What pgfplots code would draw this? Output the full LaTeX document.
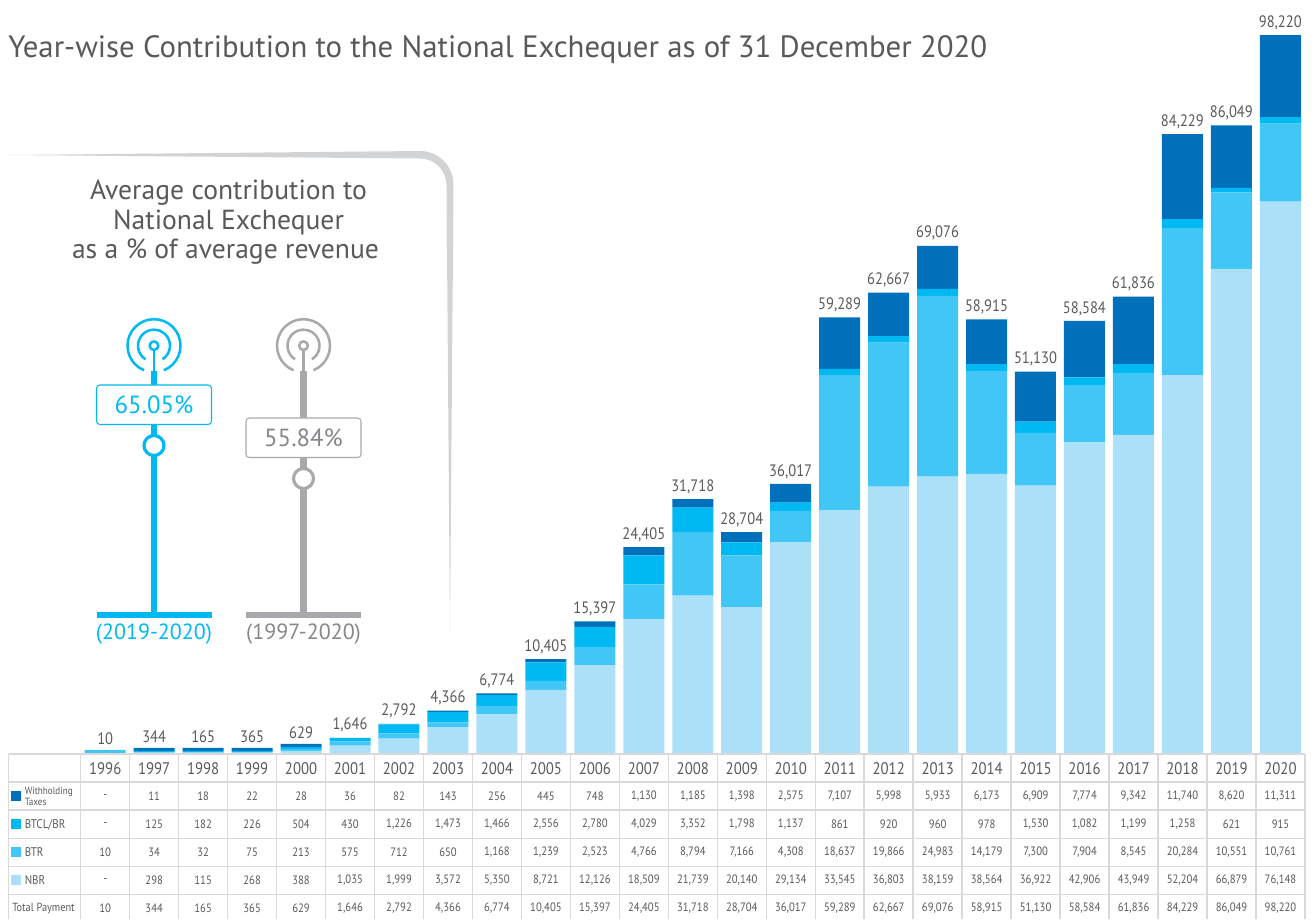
\documentclass[border=0pt]{standalone}
\usepackage{pgfplots}
\usepackage{pgfplotstable}
\usepackage{fontspec}
\pgfplotsset{compat=1.18}
\setmainfont{PT Sans}
\newfontfamily\nf[FakeStretch=0.88]{PT Sans}
\definecolor{cWHT}{HTML}{0070BB}
\definecolor{cBTCL}{HTML}{00B9F2}
\definecolor{cBTR}{HTML}{41C6F5}
\definecolor{cNBR}{HTML}{ABE0F8}
\definecolor{cGrid}{HTML}{D9D9D9}
\definecolor{cText}{HTML}{58595B}
\definecolor{cPanel}{HTML}{D1D3D4}
\definecolor{cAnt}{HTML}{A7A9AC}
\pgfkeys{/pgf/number format/.cd,fixed,precision=0,1000 sep={,},assume math mode=true}
% the printed table
\pgfplotstableread{
year wht btcl btr nbr total
1996 0 0 10 0 10
1997 11 125 34 298 344
1998 18 182 32 115 165
1999 22 226 75 268 365
2000 28 504 213 388 629
2001 36 430 575 1035 1646
2002 82 1226 712 1999 2792
2003 143 1473 650 3572 4366
2004 256 1466 1168 5350 6774
2005 445 2556 1239 8721 10405
2006 748 2780 2523 12126 15397
2007 1130 4029 4766 18509 24405
2008 1185 3352 8794 21739 31718
2009 1398 1798 7166 20140 28704
2010 2575 1137 4308 29134 36017
2011 7107 861 18637 33545 59289
2012 5998 920 19866 36803 62667
2013 5933 960 24983 38159 69076
2014 6173 978 14179 38564 58915
2015 6909 1530 7300 36922 51130
2016 7774 1082 7904 42906 58584
2017 9342 1199 8545 43949 61836
2018 11740 1258 20284 52204 84229
2019 8620 621 10551 66879 86049
2020 11311 915 10761 76148 98220
}\datatable
% the bars as drawn (the first years are drawn taller than the table's values)
\pgfplotstableread{
year wht btcl btr nbr top total
1996 0 0 415 0 1 10
1997 415 180 60 60 1 344
1998 415 180 60 60 1 165
1999 415 180 60 60 1 365
2000 415 280 270 280 1 629
2001 36 430 575 1035 1 1646
2002 82 1226 712 1999 1 2792
2003 143 1473 650 3572 1 4366
2004 256 1466 1168 5350 1 6774
2005 445 2556 1239 8721 1 10405
2006 748 2780 2523 12126 1 15397
2007 1130 4029 4766 18509 1 24405
2008 1185 3352 8794 21739 1 31718
2009 1398 1798 7166 20140 1 28704
2010 2575 1137 4308 29134 1 36017
2011 7107 861 18637 33545 1 59289
2012 5998 920 19866 36803 1 62667
2013 5933 960 24983 38159 1 69076
2014 6173 978 14179 38564 1 58915
2015 6909 1530 7300 36922 1 51130
2016 7774 1082 7904 42906 1 58584
2017 9342 1199 8545 43949 1 61836
2018 11740 1258 20284 52204 1 84229
2019 8620 621 10551 66879 1 86049
2020 11311 915 10761 76148 1 98220
}\bartable
\newcommand\fs[1]{\fontsize{#1}{#1}\selectfont}
\newcommand\cellv[3]{%
  \pgfplotstablegetelem{#1}{#2}\of\datatable
  \ifnum\pgfplotsretval=0 \def\celltext{-}\else\def\celltext{\pgfmathprintnumber{\pgfplotsretval}}\fi
  \node[text=cText,font=\nf\fs{9.1}] at (\X,#3) {\celltext};%
}
\newcommand\antenna[6]{% x, box top, colour, value, period, value colour
  \draw[#3,line width=1.6pt,line cap=butt] (#1,373) -- (#1,349);
  \draw[#3,line width=1.9pt] (#1,345.7) circle (4.3);
  \draw[#3,line width=1.9pt] ($(#1,345.7)+(122:16)$) arc (122:418:16);
  \draw[#3,line width=1.9pt] ($(#1,345.7)+(112:26.5)$) arc (112:428:26.5);
  \draw[#3,line width=5.2pt] (#1,371) -- (#1,613);
  \draw[#3,line width=4.2pt] (#1-57.5,614.8) -- (#1+57.5,614.8);
  \draw[#3,fill=white,line width=0.8pt,rounded corners=2.5pt] (#1-57.5,#2) rectangle (#1+57.5,#2+39.5);
  \node[text=#6,font=\fs{18.6}] at (#1,#2+20) {#4};
  \draw[#3,fill=white,line width=2.4pt] (#1,#2+60.5) circle (10);
  \node[text=#6,font=\fs{16.5}] at (#1,634) {#5};
}
\usetikzlibrary{calc}
\begin{document}
\begin{tikzpicture}
\begin{scope}[x=0.75pt,y=-0.75pt]
\path[use as bounding box] (0,0) rectangle (1315,919);
% panel curve
\fill[cPanel] (8,155) -- (420,151) arc (-90:0:33.5) -- (450,632) -- (446.5,185) arc (0:-90:26.5) -- cycle;
% title
\node[anchor=west,text=cText,font=\fs{23.1},inner sep=0pt] at (8,50) {Year-wise Contribution to the National Exchequer as of 31 December 2020};
% panel heading
\node[text=cText,font=\fs{20.7}] at (228.5,193) {Average contribution to};
\node[text=cText,font=\fs{20.7}] at (228.5,222) {National Exchequer};
\node[text=cText,font=\fs{20.7}] at (225.5,252) {as a \% of average revenue};
\antenna{154}{385}{cBTCL}{65.05\%}{(2019-2020)}{cBTCL}
\antenna{303.5}{418}{cAnt}{55.84\%}{(1997-2020)}{cAnt!80!black}
\end{scope}
% bars
\begin{axis}[at={(60.375pt,-564.75pt)},anchor=south west,scale only axis,
  width=918.75pt,height=564.75pt,
  xmin=1995.495,xmax=2020.515,ymin=0,ymax=104000,
  axis lines=none,clip=false,
  ybar stacked,bar width=30.75pt,
  table/x=year]
\addplot[draw=none,fill=cNBR] table[y=nbr] {\bartable};
\addplot[draw=none,fill=cBTR] table[y=btr] {\bartable};
\addplot[draw=none,fill=cBTCL] table[y=btcl] {\bartable};
\addplot[draw=none,fill=cWHT] table[y=wht] {\bartable};
\addplot[draw=none,fill=none,point meta=\thisrow{total},
  nodes near coords,
  every node near coord/.append style={text=cText,font=\nf\fs{12.4},anchor=south,yshift=0.6pt}]
  table[y=top] {\bartable};
\end{axis}
\begin{scope}[x=0.75pt,y=-0.75pt]
% table grid
\foreach \yy in {754,782,810,838.3,866.3,894.3}
  \draw[cGrid,line width=1.1pt] (8.7,\yy) -- (1305,\yy);
\draw[cGrid,line width=1.1pt] (8.7,754) -- (8.7,919);
\foreach \k in {0,...,25}{
  \pgfmathsetmacro\vx{80.7+48.97*\k}
  \draw[cGrid,line width=1.1pt] (\vx,754) -- (\vx,919);
}
% table text
\foreach \i in {0,...,24}{
  \pgfmathsetmacro\X{105.2+48.97*\i}
  \pgfplotstablegetelem{\i}{year}\of\datatable
  \node[text=cText,font=\nf\fs{12.6}] at (\X,769) {\pgfplotsretval};
  \cellv{\i}{wht}{796.5}
  \cellv{\i}{btcl}{824.5}
  \cellv{\i}{btr}{852.5}
  \cellv{\i}{nbr}{880.5}
  \cellv{\i}{total}{908.5}
}
% row headers
\fill[cWHT] (11,791) rectangle (21,801);
\fill[cBTCL] (11,819) rectangle (21,829);
\fill[cBTR] (11,847) rectangle (21,857);
\fill[cNBR] (11,875) rectangle (21,885);
\node[anchor=west,text=cText,font=\nf\fontsize{7.8}{8.3}\selectfont,align=left,inner sep=0pt] at (24.5,796) {Withholding\\Taxes};
\node[anchor=west,text=cText,font=\nf\fs{9.4},inner sep=0pt] at (24.5,824.5) {BTCL/BR};
\node[anchor=west,text=cText,font=\nf\fs{9.4},inner sep=0pt] at (24.5,852.5) {BTR};
\node[anchor=west,text=cText,font=\nf\fs{9.4},inner sep=0pt] at (24.5,880.5) {NBR};
\node[anchor=west,text=cText,font=\nf\fs{8.8},inner sep=0pt] at (12,908.5) {Total Payment};
\end{scope}
\end{tikzpicture}
\end{document}
